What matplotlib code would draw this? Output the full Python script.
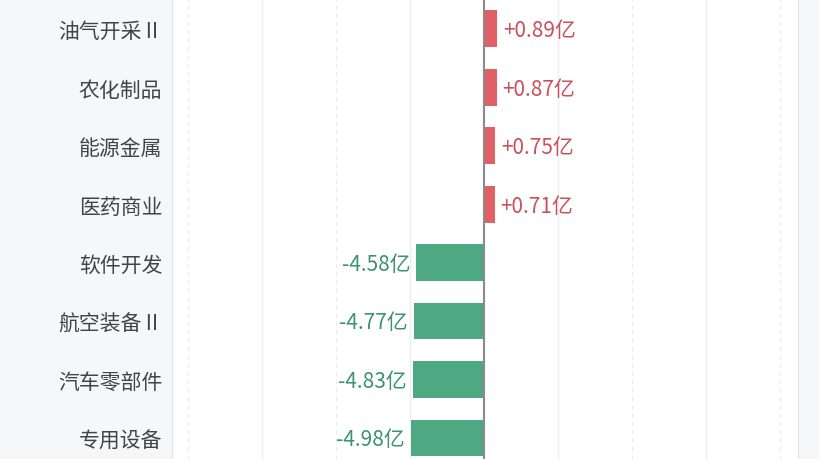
import matplotlib
matplotlib.use('Agg')
from matplotlib import pyplot as plt

plt.rcParams['font.family'] = ['Noto Sans CJK SC', 'DejaVu Sans']

# data (亿)
categories = ['油气开采Ⅱ', '农化制品', '能源金属', '医药商业',
              '软件开发', '航空装备Ⅱ', '汽车零部件', '专用设备']
values = [0.89, 0.87, 0.75, 0.71, -4.58, -4.77, -4.83, -4.98]
grid_solid = [-15, -5, 5, 15]
grid_dashed = [-20, -10, 10, 20]

red_bar, red_text = '#e06065', '#c8515b'
green_bar, green_text = '#4ea983', '#3d9272'

fig = plt.figure(figsize=(8.2, 4.6), dpi=100, facecolor='#f6f7f9')
ax = fig.add_axes([172 / 820, 0, (798 - 172) / 820, 1])
ax.set_facecolor('white')

for x in grid_solid:
    ax.axvline(x, color='#efefef', lw=1, zorder=0)
for x in grid_dashed:
    ax.axvline(x, color='#ececec', lw=1, ls=(0, (3, 3)), zorder=0)

y = list(range(len(categories)))
colors = [red_bar if v > 0 else green_bar for v in values]
ax.barh(y, values, height=0.63, color=colors, zorder=2)
ax.axvline(0, color='#8a8a8a', lw=1.5, zorder=3)

for yi, v in zip(y, values):
    if v > 0:
        ax.annotate('+%.2f亿' % v, (v, yi), xytext=(4, -1), textcoords='offset points',
                    ha='left', va='center', fontsize=15, color=red_text)
    else:
        ax.annotate('%.2f亿' % v, (v, yi), xytext=(-4, -1), textcoords='offset points',
                    ha='right', va='center', fontsize=15, color=green_text)

ax.set_xlim(-21.1, 21.2)
ax.set_ylim(7.36, -0.51)
ax.set_yticks(y)
ax.set_yticklabels(categories, fontsize=15, color='#444444')
ax.tick_params(axis='y', length=0, pad=7)
ax.set_xticks([])
for side in ['top', 'bottom']:
    ax.spines[side].set_visible(False)
for side in ['left', 'right']:
    ax.spines[side].set_color('#e2e2e2')

fig.savefig('out.png', dpi=100, facecolor=fig.get_facecolor())
